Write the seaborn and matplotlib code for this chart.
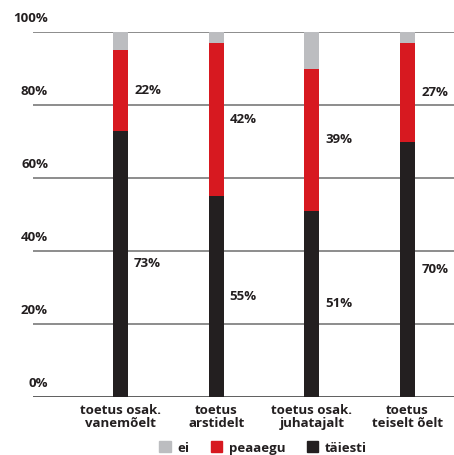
import matplotlib
matplotlib.use("Agg")
import matplotlib.pyplot as plt
import matplotlib.patches as mpatches
import matplotlib.transforms as mtransforms
import seaborn as sns
import pandas as pd

categories = ["toetus osak.\nvanemõelt", "toetus\narstidelt", "toetus osak.\njuhatajalt", "toetus\nteiselt õelt"]
taiesti = [73, 55, 51, 70]
peaaegu = [22, 42, 39, 27]
ei = [5, 3, 10, 3]
y_ticks = [0, 20, 40, 60, 80, 100]

c_ei = "#bcbdc0"
c_peaaegu = "#d71920"
c_taiesti = "#231f20"
txt = "#231f20"

sns.set_theme(style="white")
plt.rcParams["font.family"] = ["Open Sans", "DejaVu Sans"]
plt.rcParams["font.weight"] = "bold"

df = pd.DataFrame({"cat": categories, "taiesti": taiesti, "peaaegu": peaaegu, "ei": ei})
df["lvl2"] = df["taiesti"] + df["peaaegu"]
df["lvl3"] = df["lvl2"] + df["ei"]

fig = plt.figure(figsize=(4.54, 4.55), dpi=100)
ax = fig.add_axes([33 / 454, 58 / 455, 421 / 454, 365 / 455])

for y in y_ticks:
    ax.axhline(y, color="#333333" if y == 0 else "#6e6e6e", lw=1.1, zorder=0)

bw = 0.157
bar_kw = dict(width=bw, ax=ax, saturation=1, linewidth=0, edgecolor="none")
sns.barplot(data=df, x="cat", y="lvl3", color=c_ei, zorder=2, **bar_kw)
sns.barplot(data=df, x="cat", y="lvl2", color=c_peaaegu, zorder=3, **bar_kw)
sns.barplot(data=df, x="cat", y="taiesti", color=c_taiesti, zorder=4, **bar_kw)

ax.set_xlim(-0.915, 3.485)
ax.set_ylim(0, 100)
ax.set_xlabel("")
ax.set_ylabel("")
ax.set_yticks([])
for s in ax.spines.values():
    s.set_visible(False)

ax.tick_params(axis="x", length=0, pad=5)
ax.set_xticks(range(len(categories)))
ax.set_xticklabels(categories, fontsize=9.5, color=txt, fontweight="bold")
for lab in ax.get_xticklabels():
    lab.set_linespacing(1.0)

# value labels to the right of the red and black segments
for i in range(len(categories)):
    ax.text(i + bw / 2 + 0.063, taiesti[i] / 2, f"{taiesti[i]}%", ha="left", va="center",
            fontsize=9.5, color=txt, fontweight="bold")
    ax.text(i + bw / 2 + 0.063, taiesti[i] + peaaegu[i] / 2, f"{peaaegu[i]}%", ha="left", va="center",
            fontsize=9.5, color=txt, fontweight="bold")

# y labels sit just above their gridlines, right-aligned
trans = mtransforms.blended_transform_factory(ax.transAxes, ax.transData)
off = mtransforms.offset_copy(trans, fig=fig, x=0, y=5, units="points")
for y in y_ticks:
    ax.text((48 - 33) / 421, y, f"{y}%", ha="right", va="bottom", transform=off,
            fontsize=9.5, color=txt, fontweight="bold")

handles = [mpatches.Patch(color=c_ei, label="ei"),
           mpatches.Patch(color=c_peaaegu, label="peaaegu"),
           mpatches.Patch(color=c_taiesti, label="täiesti")]
leg = fig.legend(handles=handles, loc="center", bbox_to_anchor=(263 / 454, 1 - 448 / 455), ncol=3,
                 frameon=False, fontsize=9.5, handlelength=0.9, handleheight=0.9,
                 handletextpad=0.5, columnspacing=1.6)
for t in leg.get_texts():
    t.set_color(txt)
    t.set_fontweight("bold")

fig.savefig("out.png", dpi=100)
